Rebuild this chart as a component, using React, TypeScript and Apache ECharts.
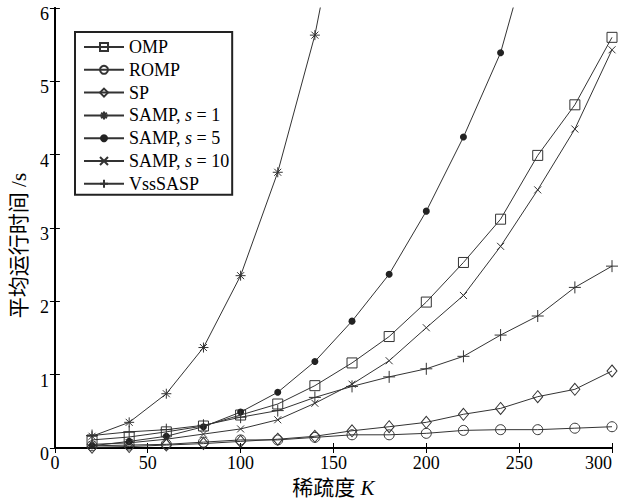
import React, { useEffect, useRef } from "react";
import * as echarts from "echarts";

const K = [20, 40, 60, 80, 100, 120, 140, 160, 180, 200, 220, 240, 260, 280, 300];

const omp = [0.11, 0.15, 0.22, 0.3, 0.45, 0.6, 0.85, 1.16, 1.52, 1.99, 2.53, 3.12, 3.99, 4.68, 5.6];
const romp = [0.03, 0.04, 0.05, 0.08, 0.11, 0.11, 0.145, 0.18, 0.18, 0.2, 0.24, 0.25, 0.25, 0.27, 0.29];
const sp = [0.01, 0.02, 0.04, 0.06, 0.09, 0.12, 0.16, 0.235, 0.29, 0.35, 0.46, 0.54, 0.7, 0.8, 1.05];
const samp1 = [0.16, 0.35, 0.74, 1.37, 2.35, 3.76, 5.63, 8.2];
const samp5 = [0.03, 0.09, 0.16, 0.29, 0.49, 0.76, 1.18, 1.73, 2.37, 3.23, 4.24, 5.39, 7.2];
const samp10 = [0.05, 0.07, 0.12, 0.19, 0.26, 0.385, 0.61, 0.87, 1.19, 1.64, 2.08, 2.75, 3.52, 4.35, 5.43];
const vss = [0.17, 0.22, 0.25, 0.31, 0.42, 0.51, 0.69, 0.84, 0.97, 1.08, 1.25, 1.54, 1.8, 2.19, 2.48];

const names = ["OMP", "ROMP", "SP", "SAMP, s = 1", "SAMP, s = 5", "SAMP, s = 10", "VssSASP"];

const FONT = "'Liberation Serif', 'Times New Roman', 'Noto Sans CJK SC', serif";
const LINE = "#333";

function pts(vals: number[]) {
  return vals.map((v, i) => [K[i], v]);
}

export default function App() {
  const ref = useRef<HTMLDivElement>(null);
  useEffect(() => {
    if (!ref.current) return;
    const chart = echarts.init(ref.current, undefined, { renderer: "svg" });
    const hollow = { color: "transparent", borderColor: LINE, borderWidth: 1 };
    const mk = (name: string, vals: number[], symbol: string, size: any, itemStyle: any) => ({
      name,
      type: "line",
      data: pts(vals),
      symbol,
      symbolSize: size,
      itemStyle,
      lineStyle: { color: LINE, width: 1 },
      clip: true,
      z: 3,
    });
    const series = [
      mk(names[0], omp, "rect", 10, hollow),
      mk(names[1], romp, "circle", 10, hollow),
      mk(names[2], sp, "diamond", [10, 12], hollow),
      mk(names[3], samp1, "path://M5,0L5,10M0,5L10,5M1.5,1.5L8.5,8.5M8.5,1.5L1.5,8.5", 10, hollow),
      mk(names[4], samp5, "circle", 7, { color: "#222", borderColor: "#222", borderWidth: 0 }),
      mk(names[5], samp10, "path://M0,0L10,10M10,0L0,10", 7, hollow),
      mk(names[6], vss, "path://M5,0L5,10M0,5L10,5", 12, hollow),
    ];
    const axisLine = { show: true, lineStyle: { color: "#000", width: 2 } };
    const axisTick = { show: true, inside: true, length: 5, lineStyle: { color: "#000", width: 1 } };
    const labelStyle = { color: "#000", fontSize: 18, fontFamily: FONT };
    chart.setOption({
      animation: false,
      backgroundColor: "#fff",
      grid: { left: 52, right: 16, top: 8, bottom: 54, containLabel: false },
      legend: {
        orient: "vertical",
        left: 75,
        top: 32,
        padding: [6, 3, 2, 8],
        borderColor: "#222",
        borderWidth: 2,
        itemWidth: 40,
        itemHeight: 10,
        itemGap: 4.8,
        data: names,
        textStyle: {
          color: "#000",
          fontSize: 18,
          fontFamily: FONT,
          lineHeight: 18,
          rich: { i: { fontStyle: "italic", fontSize: 18, fontFamily: FONT, color: "#000", lineHeight: 18 } },
        },
        formatter: (n: string) => n.replace(", s", ", {i|s}"),
      },
      xAxis: [
        {
          type: "value",
          min: 0,
          max: 300,
          interval: 50,
          position: "bottom",
          axisLine,
          axisTick,
          splitLine: { show: false },
          axisLabel: { ...labelStyle, margin: 6, alignMaxLabel: "right" },
          name: "稀疏度 {i|K}",
          nameLocation: "middle",
          nameGap: 29,
          nameTextStyle: {
            color: "#000",
            fontSize: 21,
            fontFamily: FONT,
            rich: { i: { fontStyle: "italic", fontSize: 21, fontFamily: FONT, color: "#000" } },
          },
        },
        {
          type: "value",
          min: 0,
          max: 300,
          interval: 50,
          position: "top",
          axisLine,
          axisTick,
          splitLine: { show: false },
          axisLabel: { show: false },
        },
      ],
      yAxis: [
        {
          type: "value",
          min: 0,
          max: 6,
          interval: 1,
          position: "left",
          axisLine,
          axisTick,
          splitLine: { show: false },
          axisLabel: { ...labelStyle, margin: 6, verticalAlign: "top", lineHeight: 12 },
          name: "平均运行时间 /s",
          nameLocation: "middle",
          nameGap: 16,
          nameRotate: 90,
          nameTextStyle: { color: "#000", fontSize: 21, fontFamily: FONT, padding: [0, 35, 0, 0] },
        },
        {
          type: "value",
          min: 0,
          max: 6,
          interval: 1,
          position: "right",
          axisLine,
          axisTick,
          splitLine: { show: false },
          axisLabel: { show: false },
        },
      ],
      series,
    });
    return () => chart.dispose();
  }, []);
  return (
    <div
      ref={ref}
      style={{ position: "fixed", left: 0, top: 0, width: 628, height: 503, background: "#fff" }}
    />
  );
}
